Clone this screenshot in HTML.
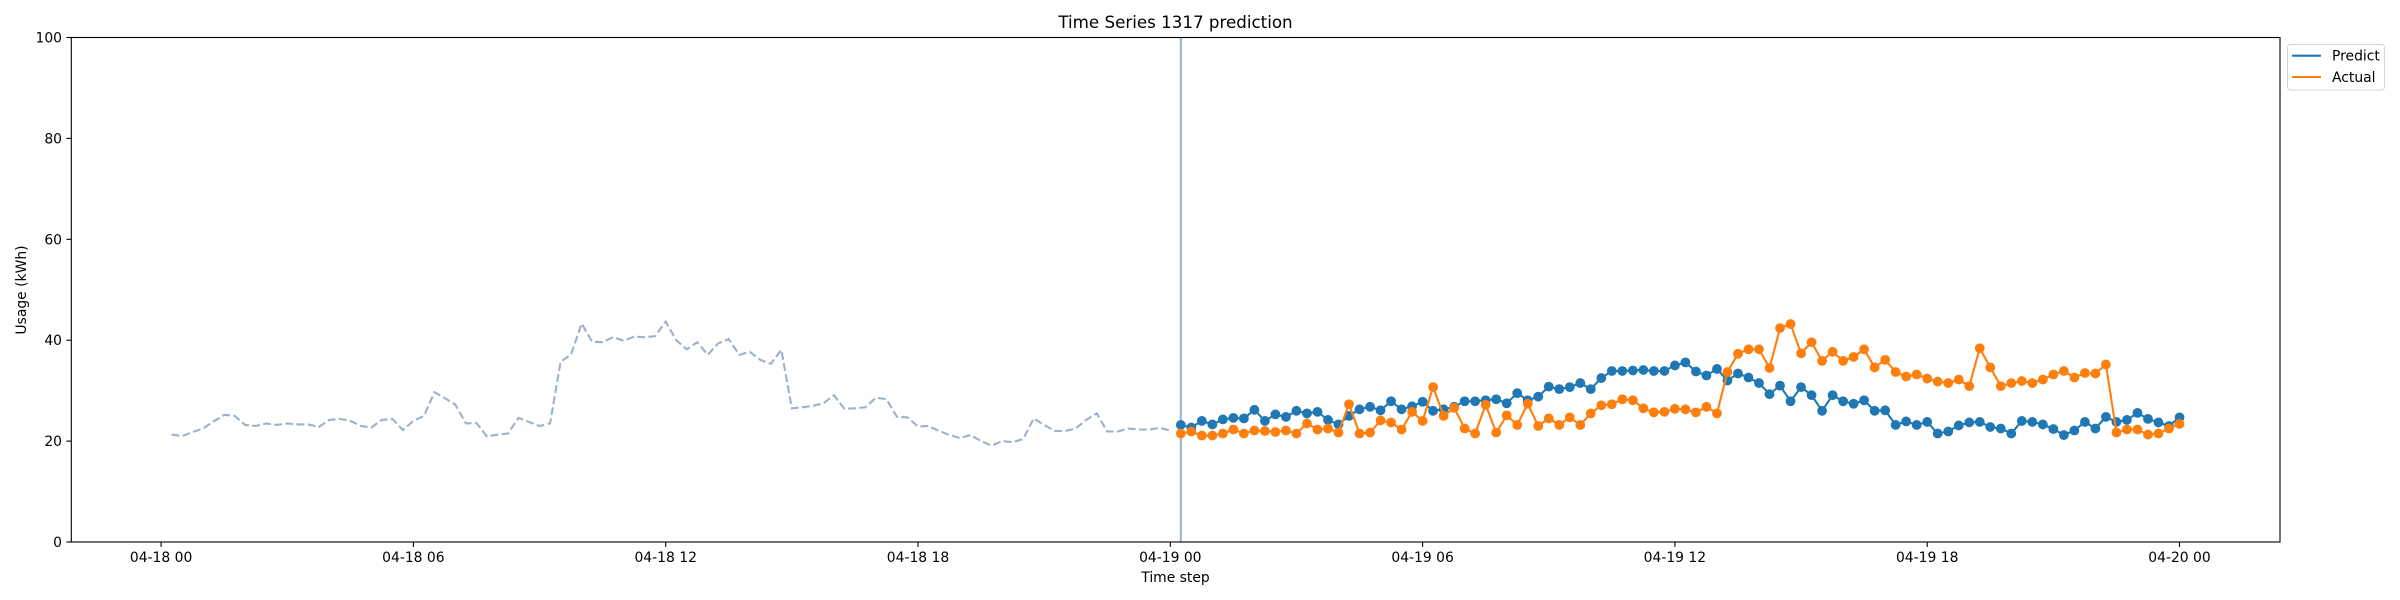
<!DOCTYPE html>
<html><head><meta charset="utf-8"><style>
html,body{margin:0;padding:0;background:#fff;}
svg{display:block;font-family:"DejaVu Sans","Liberation Sans",sans-serif;}
</style></head><body>
<svg id="chart" width="2400" height="600" viewBox="0 0 2400 600" xmlns="http://www.w3.org/2000/svg">
<rect width="2400" height="600" fill="#fff"/>
<text x="1175.5" y="28" font-size="16.7" text-anchor="middle" fill="#000">Time Series 1317 prediction</text>
<g id="plot"></g>
<rect x="71.3" y="37.5" width="2208.7" height="504.5" fill="none" stroke="#000" stroke-width="1.1"/>
<g id="axes"></g>
<text x="1175.5" y="582" font-size="13.9" text-anchor="middle">Time step</text>
<text transform="translate(26,290) rotate(-90)" font-size="13.9" text-anchor="middle">Usage (kWh)</text>
<g>
<rect x="2287.5" y="44.5" width="97" height="45.5" rx="3" fill="#fff" stroke="#d6d6d6" stroke-width="1"/>
<line x1="2292" y1="55.7" x2="2321" y2="55.7" stroke="#1f77b4" stroke-width="2.1"/>
<text x="2332" y="60.5" font-size="13.9">Predict</text>
<line x1="2292" y1="77" x2="2321" y2="77" stroke="#ff7f0e" stroke-width="2.1"/>
<text x="2332" y="82" font-size="13.9">Actual</text>
</g>
</svg>
<script>
const historyValues = [21.3,21.0,21.8,22.5,23.9,25.2,25.0,23.2,23.0,23.5,23.2,23.5,23.3,23.3,22.8,24.2,24.4,24.0,23.0,22.7,24.2,24.4,22.2,24.0,25.0,29.7,28.5,27.2,23.5,23.6,20.9,21.3,21.5,24.6,23.8,23.0,23.5,35.7,37.2,43.3,39.7,39.6,40.6,39.9,40.7,40.6,40.8,43.7,40.0,38.2,39.6,37.1,39.4,40.2,37.1,37.7,36.1,35.3,38.1,26.5,26.7,27.0,27.5,29.1,26.4,26.5,26.7,28.6,28.3,24.8,24.7,22.9,23.0,22.0,21.2,20.6,21.2,20.0,19.1,20.0,19.8,20.4,24.5,23.2,22.0,22.0,22.5,24.2,25.5,21.9,21.9,22.5,22.3,22.3,22.6,22.1];
const predictValues = [23.2,22.7,24.0,23.3,24.3,24.6,24.5,26.2,24.0,25.3,24.8,26.0,25.5,25.8,24.2,23.3,25.0,26.3,26.8,26.1,27.9,26.3,26.9,27.8,26.0,
26.3,26.8,27.9,27.9,28.1,28.3,27.5,29.5,28.1,28.8,30.8,30.3,30.7,31.5,30.3,32.5,33.9,33.9,34.0,34.1,33.9,33.9,35.0,35.6,
33.8,33.0,34.3,32.0,33.4,32.6,31.5,29.3,31.0,27.9,30.7,29.1,26.0,29.1,27.9,27.4,28.1,26.0,26.1,23.2,23.9,23.2,23.8,21.5,
21.9,23.1,23.7,23.8,22.8,22.5,21.5,24.0,23.8,23.3,22.4,21.2,22.1,23.8,22.5,24.8,23.8,24.2,25.6,24.4,23.7,23.0,24.7];
const actualValues = [21.5,21.9,21.1,21.1,21.5,22.3,21.5,22.1,22.0,21.8,22.1,21.5,23.5,22.3,22.5,21.7,27.3,21.5,21.7,24.1,23.7,22.3,25.8,24.0,30.7,
25.0,26.6,22.5,21.5,27.2,21.7,25.1,23.2,27.4,23.0,24.5,23.2,24.7,23.2,25.5,27.1,27.3,28.3,28.1,26.5,25.7,25.8,26.4,26.3,
25.7,26.8,25.5,33.7,37.3,38.2,38.2,34.5,42.4,43.2,37.4,39.6,35.9,37.7,35.9,36.7,38.2,34.6,36.1,33.7,32.8,33.2,32.4,31.8,
31.5,32.2,30.9,38.4,34.6,30.9,31.5,31.9,31.5,32.2,33.2,33.9,32.6,33.5,33.4,35.2,21.7,22.3,22.3,21.3,21.5,22.5,23.4];
const yTicks = [0,20,40,60,80,100];
const xTickLabels = ["04-18 00","04-18 06","04-18 12","04-18 18","04-19 00","04-19 06","04-19 12","04-19 18","04-20 00"];
const xTickHours = [0,6,12,18,24,30,36,42,48];

const NS = "http://www.w3.org/2000/svg";
const X0 = 161.1, PXH = 42.05;
function xh(h){ return X0 + h*PXH; }
function yv(v){ return 542 - v*5.045; }
function mk(tag, attrs, parent){ const e=document.createElementNS(NS,tag); for(const k in attrs) e.setAttribute(k,attrs[k]); parent.appendChild(e); return e; }
const plot = document.getElementById('plot');
const axes = document.getElementById('axes');

const hPts = historyValues.map((v,i)=>xh(0.25*(i+1)).toFixed(2)+','+yv(v).toFixed(2)).join(' ');
const hl = mk('polyline',{points:hPts,fill:'none',stroke:'#9db0cc','stroke-width':2.1,'stroke-dasharray':'7.8,3.4'},plot);



const vx = xh(24.25);
const vl = mk('line',{x1:vx,y1:37.5,x2:vx,y2:542,stroke:'#a4b0d2','stroke-width':2.1},plot);



function series(vals, color, name){
  const g = mk('g',{},plot);
  
  
  const pts = vals.map((v,i)=>xh(24+0.25*(i+1)).toFixed(2)+','+yv(v).toFixed(2)).join(' ');
  const l = mk('polyline',{points:pts,fill:'none',stroke:color,'stroke-width':2.1,'stroke-linejoin':'round'},g);
  
  
  vals.forEach((v,i)=>{
    const c = mk('circle',{cx:xh(24+0.25*(i+1)).toFixed(2),cy:yv(v).toFixed(2),r:4.9,fill:color},g);
    
    
  });
}
series(predictValues,'#1f77b4','predict');
series(actualValues,'#ff7f0e','actual');

yTicks.forEach(t=>{
  const y = yv(t);
  const tk = mk('line',{x1:66.4,y1:y,x2:71.3,y2:y,stroke:'#000','stroke-width':1.1},axes);
  
  
  const tx = mk('text',{x:62,y:y+5,'font-size':13.9,'text-anchor':'end'},axes);
  tx.textContent = t;
  
  
});
xTickHours.forEach((h,i)=>{
  const x = xh(h);
  const tk = mk('line',{x1:x,y1:542,x2:x,y2:546.9,stroke:'#000','stroke-width':1.1},axes);
  
  
  const tx = mk('text',{x:x,y:562,'font-size':13.9,'text-anchor':'middle'},axes);
  tx.textContent = xTickLabels[i];
  
  
});
</script>
</body></html>
